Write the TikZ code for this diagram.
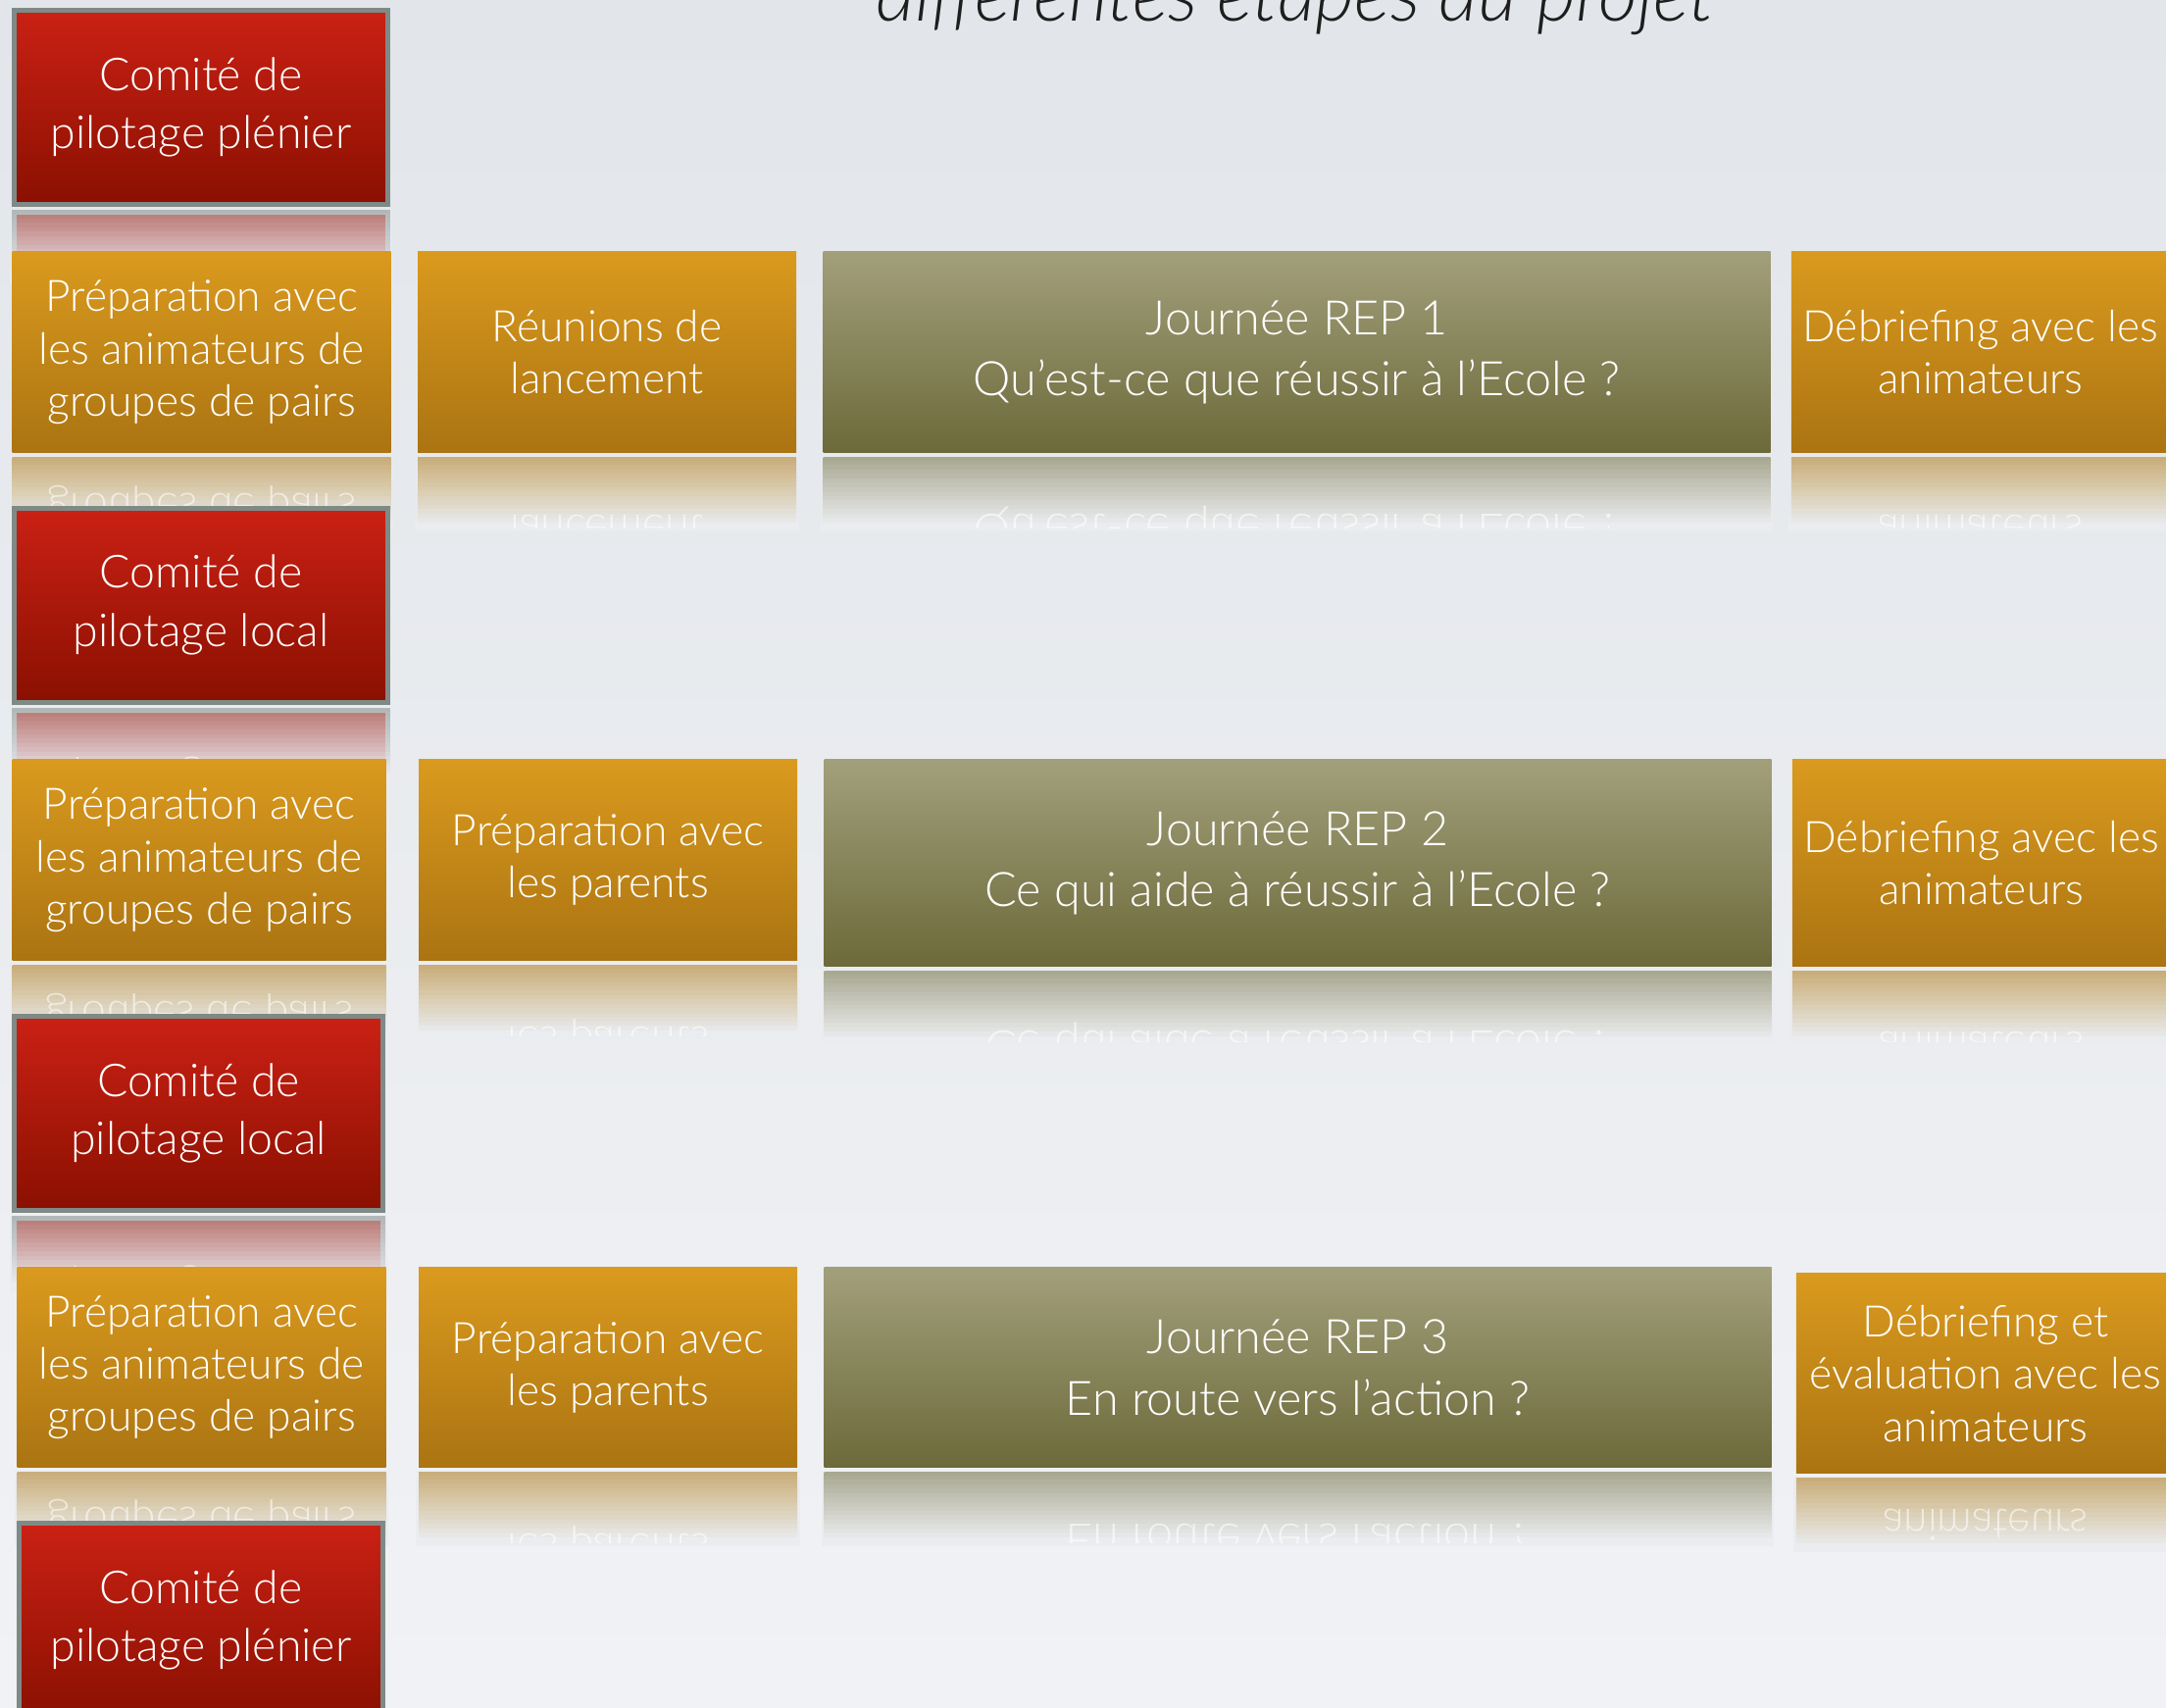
\documentclass[tikz,border=0pt]{standalone}
\usepackage{fontspec}
\setmainfont{Lato}[UprightFont=* Light, ItalicFont=* Light Italic]
\usetikzlibrary{positioning,calc}
\definecolor{rougehaut}{HTML}{CA2114}
\definecolor{rougebas}{HTML}{8A1001}
\definecolor{bordgris}{HTML}{7F8A86}
\definecolor{orhaut}{HTML}{DA9A1E}
\definecolor{orbas}{HTML}{AB7412}
\definecolor{olhaut}{HTML}{A29F7B}
\definecolor{olbas}{HTML}{6C6A3A}
\definecolor{fondhaut}{HTML}{E2E6EA}
\definecolor{fondbas}{HTML}{F1F2F5}
\definecolor{fond}{HTML}{EAECEF}
\definecolor{titregris}{HTML}{1E1E1E}
\pgfdeclarelayer{arriere}
\pgfdeclarelayer{reflet}
\pgfsetlayers{arriere,reflet,main}

% une etape : la boite et son reflet
\newcommand\etape[4]{%
  \node[#1, #3] (#2) {#4};
  \begin{pgfonlayer}{reflet}
    \begin{scope}
      \clip ($(#2.south west)+(0,-0.3mm)$) rectangle ($(#2.south east)+(0,-7.5mm)$);
      \node[#1, shading angle=180, yscale=-1, transform shape] (#2-reflet)
        at ($(#2.south)!-1!(#2.center)+(0,-0.3mm)$) {};
    \end{scope}
    \fill[fond, opacity=0.48] ($(#2.south west)+(-0.2mm,-0.3mm)$) rectangle ($(#2.south east)+(0.2mm,-7.5mm)$);
    \foreach \k [evaluate=\k as \op using 1/(16-\k)] in {1,...,15}
      \fill[fond, opacity=\op] ($(#2.south west)+(-0.2mm,-0.3mm-0.45mm*\k)$) rectangle ($(#2.south east)+(0.2mm,-7.5mm)$);
    \fill[fond] ($(#2.south west)+(-0.2mm,-7.2mm)$) rectangle ($(#2.south east)+(0.2mm,-8mm)$);
    \begin{scope}
      \clip ($(#2.south west)+(0,-0.3mm)$) rectangle ($(#2.south east)+(0,-7.6mm)$);
      \node[#1, yscale=-1, transform shape, fill opacity=0, draw opacity=0, text opacity=0.6]
        at ($(#2.south)!-1!(#2.center)+(0,-0.3mm)$) {#4};
    \end{scope}
  \end{pgfonlayer}}

\begin{document}
\begin{tikzpicture}[x=0.1mm, y=-0.1mm,
    comite/.style={draw=bordgris, line width=0.5mm, top color=rougehaut, bottom color=rougebas,
                   text=white, minimum width=38.1mm, minimum height=19.8mm, inner sep=0pt,
                   align=center, font=\fontsize{13.2}{17}\selectfont},
    prep/.style={top color=orhaut, bottom color=orbas, text=white, minimum width=38.6mm,
                 minimum height=20.5mm, inner sep=0pt, align=center, font=\fontsize{12.6}{15.2}\selectfont},
    journee/.style={prep, top color=olhaut, bottom color=olbas, minimum width=96.6mm,
                    font=\fontsize{13.8}{17.8}\selectfont},
    titre/.style={font=\fontsize{22}{26}\selectfont\itshape, text=titregris, inner sep=0pt}]
  \useasboundingbox (0,0) rectangle (2209,1742);
  \begin{pgfonlayer}{arriere}
    \fill[top color=fondhaut, bottom color=fondbas] (0,0) rectangle (2209,1742);
  \end{pgfonlayer}

  \node[titre, anchor=base] (titre) at (1321,22) {différentes étapes du projet};

  % premiere ligne
  \etape{comite}{c1}{at={(205,109.5)}}{Comité de\\pilotage plénier}
  \etape{prep}{p1}{anchor=north west, at={(12,256)}}{Préparation avec\\les animateurs de\\groupes de pairs}
  \etape{prep}{r1}{below right=0mm and 2.6mm of p1.north east}{Réunions de\\lancement}
  \etape{journee}{j1}{below right=0mm and 2.6mm of r1.north east}{Journée REP 1\\Qu’est-ce que réussir à l’Ecole ?}
  \etape{prep}{d1}{below right=0mm and 2.0mm of j1.north east}{Débriefing avec les\\animateurs}

  % deuxieme ligne
  \etape{comite}{c2}{at={(205,617)}}{Comité de\\pilotage local}
  \etape{prep, minimum width=38.1mm}{p2}{anchor=north west, at={(12,774)}}{Préparation avec\\les animateurs de\\groupes de pairs}
  \etape{prep}{r2}{below right=0mm and 3.2mm of p2.north east}{Préparation avec\\les parents}
  \etape{journee, minimum height=21.1mm}{j2}{below right=0mm and 2.6mm of r2.north east}{Journée REP 2\\Ce qui aide à réussir à l’Ecole ?}
  \etape{prep, minimum height=21.1mm}{d2}{below right=0mm and 2.0mm of j2.north east}{Débriefing avec les\\animateurs}

  % troisieme ligne
  \etape{comite, minimum width=37.6mm}{c3}{at={(202.5,1135.5)}}{Comité de\\pilotage local}
  \etape{prep, minimum width=37.6mm, minimum height=20.4mm}{p3}{anchor=north west, at={(17,1292)}}{Préparation avec\\les animateurs de\\groupes de pairs}
  \etape{prep, minimum height=20.4mm}{r3}{below right=0mm and 3.2mm of p3.north east}{Préparation avec\\les parents}
  \etape{journee, minimum height=20.4mm}{j3}{below right=0mm and 2.6mm of r3.north east}{Journée REP 3\\En route vers l’action ?}
  \etape{prep, minimum height=20.4mm}{d3}{below right=0.6mm and 2.4mm of j3.north east}{Débriefing et\\évaluation avec les\\animateurs}

  \etape{comite, minimum width=37.1mm}{c4}{at={(205,1652.5)}}{Comité de\\pilotage plénier}
\end{tikzpicture}
\end{document}
